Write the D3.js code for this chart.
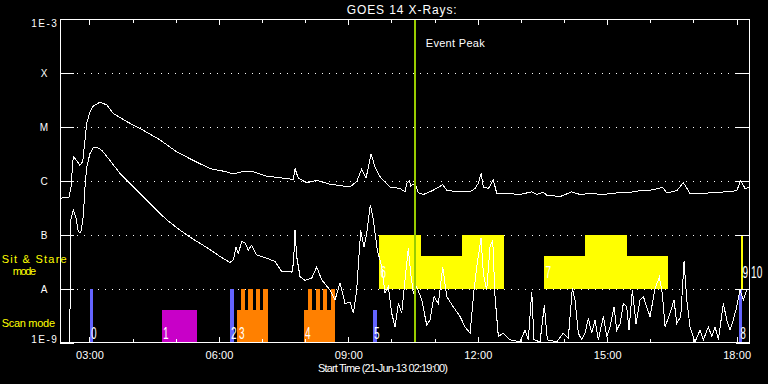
<!DOCTYPE html>
<html><head><meta charset="utf-8">
<script src="https://cdn.jsdelivr.net/npm/d3@7"></script>
<style>
html,body{margin:0;padding:0;background:#000;}
svg{display:block;}
text{font-family:"Liberation Sans",Arial,sans-serif;}
</style></head>
<body>
<script>
// ---- DATA ----
// time range (decimal UT hours, 21-Jun-2013)
const timeRange = [2.3167, 18.31];
const fluxRange = [1e-9, 1e-3];
// flux class labels, one per decade
const fluxTicks = [1e-3, 1e-4, 1e-5, 1e-6, 1e-7, 1e-8, 1e-9];
const fluxTickLabels = ["1E-3", "X", "M", "C", "B", "A", "1E-9"];
const gridLevels = [1e-4, 1e-5, 1e-6, 1e-7, 1e-8];
const hourTicks = [3,4,5,6,7,8,9,10,11,12,13,14,15,16,17,18];
const labelHours = [3,6,9,12,15,18];

// GOES 14 long channel (1-8 A): [hour, log10 flux]
const longChannel = [[2.317,-6.32],[2.525,-6.30],[2.572,-6.11],[2.625,-5.54],[2.688,-5.61],[2.780,-5.71],[2.843,-5.64],[2.896,-5.24],[2.936,-4.93],[3.012,-4.72],[3.089,-4.61],[3.244,-4.54],[3.399,-4.59],[3.552,-4.75],[3.863,-4.90],[4.248,-5.06],[4.635,-5.24],[5.022,-5.46],[5.407,-5.62],[5.794,-5.77],[6.181,-5.83],[6.334,-5.87],[6.566,-5.82],[6.798,-5.83],[7.108,-5.91],[7.725,-5.97],[7.764,-5.77],[7.841,-5.95],[8.035,-6.03],[8.267,-5.99],[8.575,-6.06],[9.039,-6.11],[9.194,-6.01],[9.310,-5.78],[9.410,-5.95],[9.526,-5.50],[9.619,-5.74],[9.734,-5.92],[9.966,-6.11],[10.198,-6.14],[10.314,-6.20],[10.353,-6.04],[10.414,-5.99],[10.446,-6.09],[10.546,-6.04],[10.622,-6.22],[10.738,-6.25],[10.970,-6.17],[11.188,-6.07],[11.281,-6.17],[11.512,-6.20],[11.821,-6.20],[11.937,-6.14],[12.013,-6.04],[12.076,-5.86],[12.129,-6.11],[12.245,-6.14],[12.361,-5.98],[12.440,-6.23],[12.671,-6.23],[12.980,-6.25],[13.251,-6.20],[13.367,-6.25],[13.520,-6.21],[13.598,-6.26],[13.907,-6.29],[14.178,-6.20],[14.370,-6.25],[14.602,-6.23],[14.911,-6.25],[15.221,-6.22],[15.530,-6.21],[15.761,-6.18],[15.993,-6.17],[16.287,-6.12],[16.380,-6.22],[16.612,-6.18],[16.765,-6.03],[16.920,-6.23],[17.229,-6.23],[17.539,-6.21],[17.771,-6.20],[18.003,-6.18],[18.096,-5.99],[18.195,-6.14],[18.310,-6.11]];

// GOES 14 short channel (0.5-4 A): [hour, log10 flux]
const shortChannel = [[2.317,-9.4],[2.539,-9.4],[2.565,-6.72],[2.625,-6.54],[2.688,-6.69],[2.741,-6.94],[2.797,-6.96],[2.857,-6.66],[2.896,-6.11],[2.936,-5.74],[3.012,-5.49],[3.089,-5.38],[3.168,-5.37],[3.283,-5.43],[3.436,-5.58],[3.708,-5.86],[4.095,-6.17],[4.479,-6.48],[4.790,-6.72],[5.098,-6.91],[5.407,-7.08],[5.717,-7.23],[5.870,-7.31],[6.026,-7.40],[6.257,-7.51],[6.334,-7.46],[6.397,-7.22],[6.450,-7.34],[6.529,-7.12],[6.605,-7.15],[6.681,-7.28],[6.760,-7.19],[6.876,-7.37],[7.108,-7.43],[7.300,-7.49],[7.456,-7.68],[7.648,-7.67],[7.694,-7.69],[7.730,-7.50],[7.764,-6.91],[7.803,-7.40],[7.880,-7.77],[7.996,-7.84],[8.151,-7.80],[8.267,-7.59],[8.383,-7.83],[8.575,-8.02],[8.691,-8.20],[8.807,-7.89],[8.923,-8.27],[9.039,-8.24],[9.116,-8.45],[9.194,-8.02],[9.287,-6.91],[9.363,-7.22],[9.426,-6.97],[9.510,-6.44],[9.579,-6.72],[9.672,-7.28],[9.774,-7.59],[9.850,-8.08],[9.927,-7.96],[10.006,-8.45],[10.082,-8.70],[10.159,-8.27],[10.238,-8.45],[10.314,-7.83],[10.390,-7.25],[10.446,-7.71],[10.506,-8.08],[10.585,-7.96],[10.701,-8.20],[10.817,-8.67],[10.893,-8.57],[10.986,-8.14],[11.086,-8.27],[11.188,-7.59],[11.281,-8.14],[11.433,-8.33],[11.589,-8.51],[11.705,-8.70],[11.821,-8.82],[11.913,-8.02],[11.976,-7.59],[12.076,-7.06],[12.129,-7.71],[12.208,-8.02],[12.284,-7.22],[12.347,-7.09],[12.400,-8.14],[12.477,-8.88],[12.592,-8.82],[12.748,-8.94],[12.980,-8.98],[13.095,-8.76],[13.172,-8.94],[13.251,-8.05],[13.304,-8.94],[13.443,-8.98],[13.543,-8.30],[13.612,-8.94],[13.830,-8.98],[13.983,-8.82],[14.099,-8.91],[14.192,-7.99],[14.254,-8.20],[14.331,-8.82],[14.410,-8.94],[14.486,-8.82],[14.563,-8.54],[14.641,-8.82],[14.718,-8.57],[14.795,-8.94],[14.911,-8.51],[14.989,-8.88],[15.066,-8.70],[15.158,-8.33],[15.221,-8.76],[15.298,-8.64],[15.374,-8.27],[15.453,-8.33],[15.506,-8.76],[15.583,-8.02],[15.668,-8.64],[15.761,-8.20],[15.838,-8.14],[15.916,-8.33],[15.993,-8.51],[16.109,-7.99],[16.209,-7.78],[16.278,-8.08],[16.341,-8.70],[16.457,-8.45],[16.549,-8.20],[16.612,-8.64],[16.705,-8.51],[16.782,-7.49],[16.844,-8.20],[16.920,-8.70],[17.036,-8.98],[17.152,-8.76],[17.229,-8.94],[17.345,-8.70],[17.423,-8.88],[17.500,-8.70],[17.577,-8.94],[17.692,-8.27],[17.771,-8.57],[17.847,-8.76],[17.924,-8.57],[18.003,-8.33],[18.079,-8.02],[18.156,-8.20],[18.234,-8.02],[18.310,-7.99]];

// IRIS observations, scan mode: [label, start hour, end hour, kind, relative height]
const scanObs = [["0",3.012,3.082,"small",1],["1",4.681,5.492,"large",0.61],["2",6.257,6.350,"small",1],["3",6.420,7.131,"raster",0.61],["4",7.973,8.691,"raster",0.61],["5",9.572,9.665,"small",0.61],["8",18.063,18.119,"small",1]];
// raster repetitions within scans 3 and 4: [start, end]
const rasterReps = [[6.505,6.605],[6.681,6.783],[6.860,6.960],[7.029,7.131],[8.072,8.165],[8.244,8.337],[8.420,8.513],[8.599,8.691]];
// sit & stare observations: [start, end, relative height]
const stareSegs = [[9.711,10.685,1],[10.685,11.628,0.61],[11.628,12.609,1],[13.536,14.486,0.61],[14.486,15.453,1],[15.453,16.404,0.61],[18.103,18.149,1]];
const stareLabels = [["6",9.711],["7",13.536],["9",18.103],["10",18.30]];
const eventPeak = 10.539;

// ---- DRAW ----
const W = 768, H = 384;
const L = 60, R = 750, T = 19, B = 343;
const svg = d3.select("body").append("svg").attr("width", W).attr("height", H)
  .style("background", "#000");

const x = d3.scaleLinear().domain(timeRange).range([L, R]);
const y = d3.scaleLog().domain(fluxRange).range([B, T]);
const scanY = d3.scaleLinear().domain([0, 1]).range([y(1e-9), y(1e-8)]);
const stareY = d3.scaleLinear().domain([0, 1]).range([y(1e-8), y(1e-7)]);
const colors = {small: "#6464ff", large: "#c800c8", raster: "#ff8000"};

svg.append("defs").append("clipPath").attr("id", "clip")
  .append("rect").attr("x", L).attr("y", T).attr("width", R - L).attr("height", B - T);

// dotted grid
svg.append("g").selectAll("line").data(gridLevels).join("line")
  .attr("x1", L).attr("x2", R)
  .attr("y1", d => Math.round(y(d)) + 0.5).attr("y2", d => Math.round(y(d)) + 0.5)
  .attr("stroke", "#fff").attr("stroke-width", 1)
  .attr("stroke-dasharray", "1,6").attr("stroke-dashoffset", 4)
  .attr("shape-rendering", "crispEdges");

// sit & stare blocks
svg.append("g").selectAll("rect").data(stareSegs).join("rect")
  .attr("x", d => x(d[0])).attr("width", d => x(d[1]) - x(d[0]))
  .attr("y", d => stareY(d[2])).attr("height", d => stareY(0) - stareY(d[2]))
  .attr("fill", "#ffff00").attr("shape-rendering", "crispEdges");

// scan blocks
svg.append("g").selectAll("rect").data(scanObs).join("rect")
  .attr("x", d => x(d[1])).attr("width", d => x(d[2]) - x(d[1]))
  .attr("y", d => scanY(d[4])).attr("height", d => scanY(0) - scanY(d[4]))
  .attr("fill", d => colors[d[3]]).attr("shape-rendering", "crispEdges");
svg.append("g").selectAll("rect").data(rasterReps).join("rect")
  .attr("x", d => x(d[0])).attr("width", d => x(d[1]) - x(d[0]))
  .attr("y", scanY(1)).attr("height", scanY(0) - scanY(1))
  .attr("fill", colors.raster).attr("shape-rendering", "crispEdges");

// curves
const line = d3.line().x(d => x(d[0])).y(d => y(Math.pow(10, d[1])));
const curves = svg.append("g").attr("clip-path", "url(#clip)");
[longChannel, shortChannel].forEach(s => {
  curves.append("path").datum(s).attr("d", line)
    .attr("fill", "none").attr("stroke", "#fff").attr("stroke-width", 1)
    .attr("shape-rendering", "crispEdges");
});

// event peak
svg.append("line").attr("x1", x(eventPeak)).attr("x2", x(eventPeak))
  .attr("y1", T).attr("y2", B).attr("stroke", "#99cc00").attr("stroke-width", 2)
  .attr("shape-rendering", "crispEdges");
svg.append("text").attr("x", x(eventPeak) + 11).attr("y", 46.7)
  .attr("fill", "#fff").attr("font-size", 11).attr("textLength", 59)
  .text("Event Peak");

// observation labels (narrow digits, like the original vector font),
// nudged right only when they would collide with the previous label
const digitW = 5.6;
function labelXs(list, offset) {
  let prevEnd = -Infinity;
  return list.map(d => {
    const lx = Math.max(x(d[1]) + offset, prevEnd + 2.5);
    prevEnd = lx + digitW * d[0].length;
    return lx;
  });
}
const scanXs = labelXs(scanObs, 1);
const stareXs = labelXs(stareLabels, 1.5);
svg.append("g").selectAll("text").data(scanObs).join("text")
  .attr("x", (d, i) => scanXs[i]).attr("y", 339)
  .attr("fill", "#fff").attr("font-size", 16)
  .attr("textLength", d => digitW * d[0].length).attr("lengthAdjust", "spacingAndGlyphs")
  .text(d => d[0]);
svg.append("g").selectAll("text").data(stareLabels).join("text")
  .attr("x", (d, i) => stareXs[i]).attr("y", 278)
  .attr("fill", "#fff").attr("font-size", 16)
  .attr("textLength", d => digitW * d[0].length).attr("lengthAdjust", "spacingAndGlyphs")
  .text(d => d[0]);

// frame
svg.append("rect").attr("x", L + 0.5).attr("y", T + 0.5)
  .attr("width", R - L - 1).attr("height", B - T - 1)
  .attr("fill", "none").attr("stroke", "#fff").attr("shape-rendering", "crispEdges");

// x ticks (bottom and top)
const xMinor = d3.axisBottom(x).tickValues(hourTicks).tickSize(-4).tickFormat("");
const xMajor = d3.axisBottom(x).tickValues(labelHours).tickSize(-6).tickPadding(10)
  .tickFormat(h => String(h).padStart(2, "0") + ":00");
const gb1 = svg.append("g").attr("transform", `translate(0,${B})`).call(xMinor);
const gb2 = svg.append("g").attr("transform", `translate(0,${B})`).call(xMajor);
const gt1 = svg.append("g").attr("transform", `translate(0,${T})`).call(d3.axisTop(x).tickValues(hourTicks).tickSize(-4).tickFormat(""));
const gt2 = svg.append("g").attr("transform", `translate(0,${T})`).call(d3.axisTop(x).tickValues(labelHours).tickSize(-6).tickFormat(""));
[gb1, gb2, gt1, gt2].forEach(g => {
  g.select(".domain").remove();
  g.selectAll("line").attr("stroke", "#fff").attr("shape-rendering", "crispEdges");
});
gb2.selectAll("text").attr("fill", "#fff").attr("font-size", 11)
  .attr("font-family", '"Liberation Sans",Arial,sans-serif')
  .attr("dy", null).attr("y", 16).attr("textLength", 28);

// y ticks (left and right)
const gl = svg.append("g").attr("transform", `translate(${L},0)`)
  .call(d3.axisLeft(y).tickValues(fluxTicks).tickSize(-14).tickFormat(""));
const gr = svg.append("g").attr("transform", `translate(${R},0)`)
  .call(d3.axisRight(y).tickValues(fluxTicks).tickSize(-14).tickFormat(""));
[gl, gr].forEach(g => {
  g.select(".domain").remove();
  g.selectAll("line").attr("stroke", "#fff").attr("shape-rendering", "crispEdges");
});
svg.append("g").selectAll("text").data(fluxTicks).join("text")
  .attr("x", 44).attr("text-anchor", "middle")
  .attr("y", (d, i) => i === 0 ? y(d) + 7.7 : (i === fluxTicks.length - 1 ? y(d) + 0.3 : y(d) + 4.3))
  .attr("fill", "#fff").attr("font-size", 10)
  .each(function(d, i) { if (fluxTickLabels[i].length > 1) d3.select(this).attr("textLength", 25.5); })
  .text((d, i) => fluxTickLabels[i]);

// mode labels
svg.append("text").attr("x", 1.7).attr("y", 262.7).attr("fill", "#ffff00")
  .attr("font-size", 11).attr("textLength", 65).text("Sit & Stare");
svg.append("text").attr("x", 12.7).attr("y", 275).attr("fill", "#ffff00")
  .attr("font-size", 11).attr("textLength", 23.3).text("mode");
svg.append("text").attr("x", 1.7).attr("y", 327).attr("fill", "#ffff00")
  .attr("font-size", 11).attr("textLength", 53.3).text("Scan mode");

// titles
svg.append("text").attr("x", 401.7).attr("y", 14).attr("text-anchor", "middle")
  .attr("fill", "#fff").attr("font-size", 12).attr("textLength", 110)
  .text("GOES 14 X-Rays:");
svg.append("text").attr("x", 318).attr("y", 372.3)
  .attr("fill", "#fff").attr("font-size", 11).attr("textLength", 130)
  .text("Start Time (21-Jun-13 02:19:00)");
</script>
</body></html>
